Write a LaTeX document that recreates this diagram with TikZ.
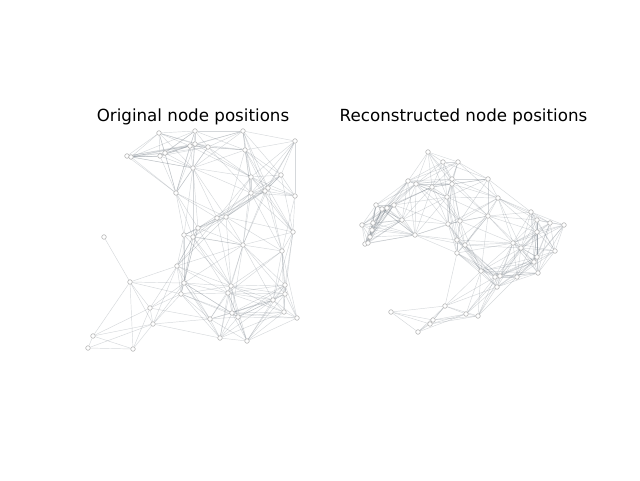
\documentclass[tikz,border=0pt]{standalone}
\usepackage{fontspec}
\setmainfont{DejaVu Sans}
\usetikzlibrary{calc}
\pgfdeclarelayer{edges}
\pgfsetlayers{edges,main}
\definecolor{edgegray}{RGB}{105,115,125}
\tikzset{
  vertex/.style={circle, draw=gray!65, fill=white, line width=0.5pt, inner sep=0pt, minimum size=4.6pt},
  link/.style={draw=edgegray, line width=0.45pt, opacity=0.28},
  heading/.style={font=\fontsize{16.7}{20}\selectfont, anchor=base, inner sep=0pt}
}

\begin{document}
\begin{tikzpicture}[x=1pt,y=-1pt]
	\useasboundingbox (0,0) rectangle (640,480);
	% original layout
	\def\origx{{159,195,243,295,127,131,160,165,190,195,208,245,193,251,281,176,251,265,268,295,217,226,198,293,104,184,193,243,282,177,130,184,181,231,228,285,285,273,150,210,232,238,284,297,153,93,220,247,88,133}}
	\def\origy{{133,131,131,141,156,157,156,153,146,144,147,150,168,177,175,193,193,191,188,196,218,217,228,232,237,235,237,245,251,266,282,283,294,286,293,285,294,300,308,319,313,317,312,318,324,336,338,341,348,349}}
	% reconstructed layout
	\def\recx{{428,443,458,408,416,432,452,452,447,488,498,376,382,387,394,402,488,531,537,550,564,362,373,372,370,365,368,415,448,460,537,555,457,465,457,513,521,537,534,538,481,495,500,517,497,445,391,466,478,433,430,418}}
	\def\recy{{152,162,162,181,184,187,179,184,197,179,198,205,209,208,205,220,216,212,220,223,225,225,223,230,237,244,243,235,224,221,232,251,240,245,253,243,248,257,262,273,271,277,276,277,287,306,312,314,316,320,324,332}}
	\def\origreach{71}
	\def\recreach{58}

	\node[heading] (origtitle) at (193,121) {Original node positions};
	\node[heading] (rectitle) at (463.5,121) {Reconstructed node positions};

	\foreach \n in {1,...,50} {
		\pgfmathsetmacro\px{\origx[\n-1]}
		\pgfmathsetmacro\py{\origy[\n-1]}
		\node[vertex] (L\n) at (\px,\py) {};
	}
	\foreach \n in {1,...,52} {
		\pgfmathsetmacro\px{\recx[\n-1]}
		\pgfmathsetmacro\py{\recy[\n-1]}
		\node[vertex] (R\n) at (\px,\py) {};
	}

	\begin{pgfonlayer}{edges}
	\foreach \i in {1,...,49} {
		\pgfmathtruncatemacro\k{\i+1}
		\foreach \j in {\k,...,50} {
			\pgfmathsetmacro\d{veclen(\origx[\i-1]-\origx[\j-1],\origy[\i-1]-\origy[\j-1])}
			\ifdim\d pt<\origreach pt \draw[link] (L\i) -- (L\j); \fi
		}
	}
	\foreach \i in {1,...,51} {
		\pgfmathtruncatemacro\k{\i+1}
		\foreach \j in {\k,...,52} {
			\pgfmathsetmacro\d{veclen(\recx[\i-1]-\recx[\j-1],\recy[\i-1]-\recy[\j-1])}
			\ifdim\d pt<\recreach pt \draw[link] (R\i) -- (R\j); \fi
		}
	}
	\end{pgfonlayer}
\end{tikzpicture}
\end{document}
